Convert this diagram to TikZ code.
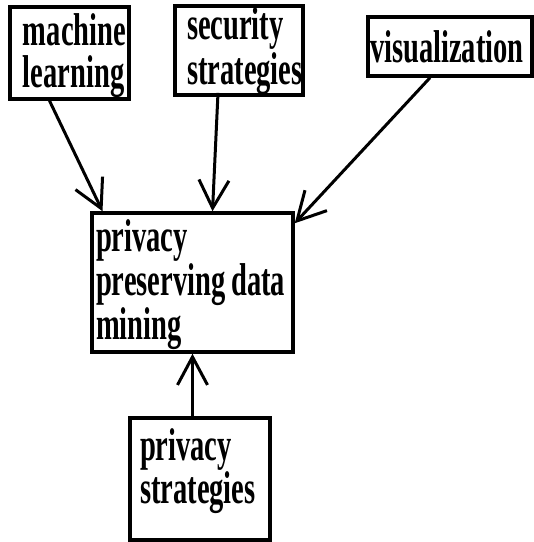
\documentclass[tikz,border=0pt]{standalone}
\usepackage{fontspec}
\newfontfamily\lblfont{Liberation Serif}[FakeStretch=0.62]
\usetikzlibrary{arrows.meta}
\hyphenpenalty=10000
\newcommand\topgap[1]{\rule{0pt}{#1pt}}
\newcommand\botgap[1]{\rule[-#1pt]{0pt}{#1pt}}
\tikzset{
  box/.style={draw, line width=3.5pt, align=left, inner sep=0pt,
    font=\lblfont\bfseries\fontsize{46}{44}\selectfont},
  arr/.style={line width=3pt, -{Straight Barb[length=28pt,width=30pt]}}
}
\begin{document}
\begin{tikzpicture}[x=1pt, y=-1pt]
    \useasboundingbox (0,0) rectangle (534,542);

    \node[box, minimum width=119pt, minimum height=92pt, text width=93pt,
      font=\lblfont\bfseries\fontsize{46}{42}\selectfont] (ml) at (69.5,53) {\topgap{38}machine\\learning};
    \node[box, minimum width=128pt, minimum height=89pt, text width=104pt,
      font=\lblfont\bfseries\fontsize{46}{45}\selectfont] (sec) at (239,50.5) {\topgap{34}security\\strategies};
    \node[box, minimum width=164pt, minimum height=59pt, text width=160pt] (vis) at (450,46.5) {\topgap{33}visualization};
    \node[box, minimum width=201pt, minimum height=139pt, text width=193pt] (ppdm) at (192.5,282.5) {\topgap{37}privacy\\\mbox{preserving\hspace{6pt}data}\\mining};
    \node[box, minimum width=140pt, minimum height=122pt, text width=120pt,
      font=\lblfont\bfseries\fontsize{46}{43}\selectfont] (ps) at (200,479) {privacy\\strategies\botgap{26}};

    \draw[arr] ([xshift=-20pt]ml.south) -- ([xshift=-90pt]ppdm.north);
    \draw[arr] ([xshift=-21pt,yshift=4pt]sec.south) -- ([xshift=20pt]ppdm.north);
    \draw[arr] ([xshift=-20pt]vis.south) -- ([yshift=-12pt]ppdm.north east);
    \draw[arr] (ps.north -| ppdm.south) -- (ppdm.south);
\end{tikzpicture}
\end{document}
